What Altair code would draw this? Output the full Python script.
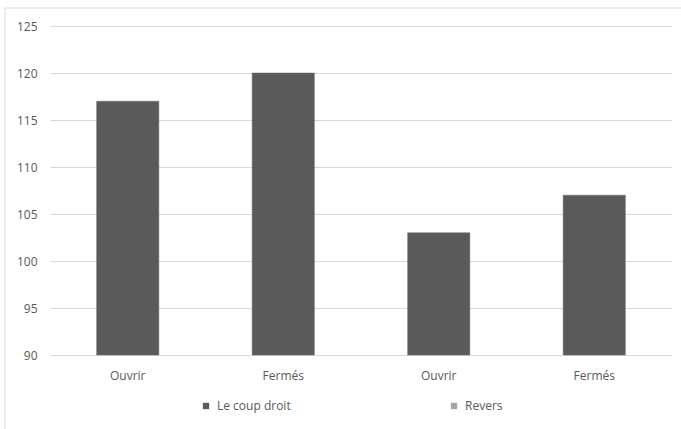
import altair as alt
import pandas as pd

# Bar values: grouped by stroke, then grip position
series_names = ["Le coup droit", "Revers"]
groups = ["Le coup droit", "Le coup droit", "Revers", "Revers"]
positions = ["Ouvrir", "Fermés", "Ouvrir", "Fermés"]
values = [117, 120, 103, 107]
y_ticks = [90, 95, 100, 105, 110, 115, 120, 125]
y_min = 90

keys = [f"{g}|{p}" for g, p in zip(groups, positions)]
bars_df = pd.DataFrame({"key": keys, "position": positions, "group": groups, "value": values})
legend_df = pd.DataFrame({"series": series_names})
one_row = pd.DataFrame({"a": [0]})

FONT = "Open Sans"
TEXT = "#595959"
GRID = "#d9d9d9"

bars = alt.Chart(bars_df).mark_bar(color="#5a5a5a", stroke="#6a6a6a", strokeWidth=0.5).encode(
    x=alt.X(
        "key:N",
        sort=keys,
        title=None,
        scale=alt.Scale(paddingInner=0.6, paddingOuter=0.3),
        axis=alt.Axis(
            labelExpr="split(datum.label, '|')[1]",
            labelAngle=0,
            domain=False,
            ticks=False,
            labelPadding=15,
            labelFont=FONT,
            labelFontSize=12,
            labelColor=TEXT,
        ),
    ),
    y=alt.Y(
        "value:Q",
        title=None,
        scale=alt.Scale(domain=[y_min, 125], nice=False, zero=False),
        axis=alt.Axis(
            values=y_ticks,
            domain=False,
            ticks=False,
            grid=True,
            gridColor=GRID,
            gridWidth=1,
            labelPadding=13,
            labelFont=FONT,
            labelFontSize=12,
            labelColor=TEXT,
        ),
    ),
    y2=alt.datum(y_min),
)

# Legend entries for both series
legend_layer = alt.Chart(legend_df).mark_square(opacity=0).encode(
    color=alt.Color(
        "series:N",
        sort=series_names,
        scale=alt.Scale(domain=series_names, range=["#5a5a5a", "#a5a5a5"]),
        legend=alt.Legend(
            title=None,
            orient="none",
            direction="horizontal",
            legendX=150,
            legendY=374,
            symbolType="square",
            symbolSize=40,
            symbolOpacity=1,
            symbolStrokeWidth=0,
            labelFont=FONT,
            labelFontSize=12,
            labelColor=TEXT,
            labelOffset=5,
            columnPadding=157,
        ),
    )
)

# Chart frame: left and top edges
left_edge = alt.Chart(one_row).mark_rule(color=GRID, strokeWidth=1).encode(
    x=alt.value(-45), y=alt.value(-18), y2=alt.value(403)
)
top_edge = alt.Chart(one_row).mark_rule(color=GRID, strokeWidth=1).encode(
    x=alt.value(-45), x2=alt.value(631), y=alt.value(-18)
)

chart = alt.layer(bars, legend_layer, left_edge, top_edge).properties(
    width=622,
    height=329,
    autosize=alt.AutoSizeParams(type="none"),
    padding={"left": 50, "top": 26, "right": 9, "bottom": 74},
    background="white",
).configure_view(stroke=None)

chart.save("out.html", embed_options={"renderer": "svg", "actions": False})
